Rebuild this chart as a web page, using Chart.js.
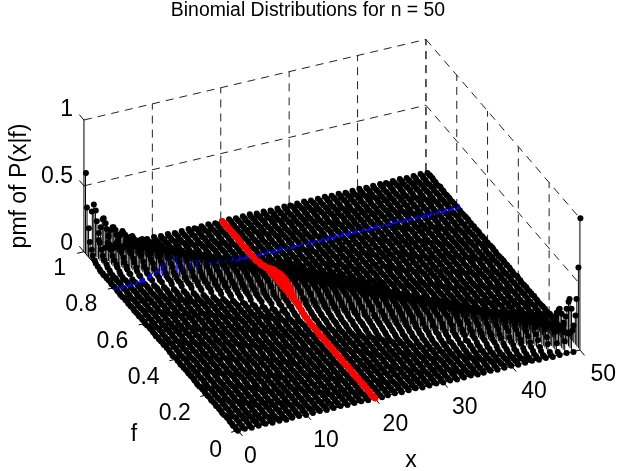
<!DOCTYPE html>
<html>
<head>
<meta charset="utf-8">
<title>Binomial Distributions for n = 50</title>
<script src="https://cdn.jsdelivr.net/npm/chart.js@4/dist/chart.umd.js"></script>
<style>
  body { margin: 0; background: #fff; }
  canvas { display: block; }
</style>
</head>
<body>
<canvas id="myChart" width="617" height="471"></canvas>
<script>
var xValues = [0,1,2,3,4,5,6,7,8,9,10,11,12,13,14,15,16,17,18,19,20,21,22,23,24,25,26,27,28,29,30,31,32,33,34,35,36,37,38,39,40,41,42,43,44,45,46,47,48,49,50];
var fValues = [0,0.01,0.02,0.03,0.04,0.05,0.06,0.07,0.08,0.09,0.1,0.11,0.12,0.13,0.14,0.15,0.16,0.17,0.18,0.19,0.2,0.21,0.22,0.23,0.24,0.25,0.26,0.27,0.28,0.29,0.3,0.31,0.32,0.33,0.34,0.35,0.36,0.37,0.38,0.39,0.4,0.41,0.42,0.43,0.44,0.45,0.46,0.47,0.48,0.49,0.5,0.51,0.52,0.53,0.54,0.55,0.56,0.57,0.58,0.59,0.6,0.61,0.62,0.63,0.64,0.65,0.66,0.67,0.68,0.69,0.7,0.71,0.72,0.73,0.74,0.75,0.76,0.77,0.78,0.79,0.8,0.81,0.82,0.83,0.84,0.85,0.86,0.87,0.88,0.89,0.9,0.91,0.92,0.93,0.94,0.95,0.96,0.97,0.98,0.99];
var xTicks = [0,10,20,30,40,50];
var fTicks = [0,0.2,0.4,0.6,0.8,1];
var zTicks = [0,0.5,1];
var redX = 20;
var blueF = 0.8;

// first x of the visible hump in each f row
var pmfFirstX = [50,47,46,45,44,43,42,41,41,40,39,39,38,37,37,36,36,35,35,34,33,32,32,31,30,30,29,29,28,28,27,27,26,26,25,25,24,24,23,23,22,22,21,21,20,20,19,19,18,18,18,
  19,18,18,17,17,16,16,15,15,14,14,13,13,12,12,11,11,10,10,9,9,8,8,7,7,6,6,5,5,4,4,4,3,3,2,2,2,1,1,1,0,0,0,0,0,0,0,0,0];
// hump heights in percent, everything outside the hump reads as 0
var pmfPercent = [
  [100],[1,8,31,61],[1,6,19,37,36],[1,5,13,26,34,22],[1,3,9,18,28,27,13],[1,3,7,14,22,26,20,8],
  [1,2,5,10,17,23,23,14,5],[1,1,4,8,14,20,22,18,10,3],[1,3,6,11,16,20,20,14,7,2],[1,2,4,8,13,18,20,17,11,4,1],
  [1,2,3,6,11,15,18,18,14,8,3],[1,3,5,9,13,17,18,16,11,6,2],[1,2,4,7,11,15,17,17,13,8,4,1],[1,1,3,6,9,13,16,17,15,11,6,3],
  [1,2,4,7,11,14,16,16,13,9,4,2],[1,2,3,6,9,12,15,16,14,11,7,3,1],[1,2,4,7,11,14,15,15,12,8,5,2],[1,2,4,6,9,13,15,15,13,10,6,3,2],
  [1,3,5,7,10,13,15,14,12,8,5,2],[1,2,3,6,9,11,14,14,13,10,6,3,2],[1,2,3,5,8,10,13,14,14,12,9,6,3,1],[1,1,3,4,7,9,12,14,14,12,10,7,4,2],
  [1,2,3,6,8,11,13,14,13,11,8,5,3,2],[1,2,3,5,7,10,12,13,13,12,9,6,4,2],[1,1,2,4,6,9,11,13,13,12,10,8,5,3,2],[1,2,3,4,7,9,11,13,13,11,9,7,4,3],
  [1,1,2,4,6,8,10,12,13,12,10,8,5,3,2],[1,2,3,5,7,9,11,12,12,11,8,6,4,3],[1,2,3,4,6,9,11,12,12,11,9,7,5,3,2],[1,2,3,5,7,9,11,12,12,10,8,6,4,3],
  [1,2,3,4,6,8,10,12,12,11,9,7,5,3,2],[1,2,3,5,7,9,11,12,12,10,8,6,4,2],[1,2,3,4,6,8,10,11,12,11,9,7,5,3,2],[1,2,3,5,7,9,10,12,12,11,8,6,4,3],
  [1,2,3,4,6,8,10,11,12,11,9,7,5,3,2],[1,2,3,5,7,9,10,12,12,10,8,6,4,3],[1,1,2,4,5,7,9,11,12,11,9,7,5,3,2],[1,2,3,5,7,9,10,11,11,10,8,6,4,2],
  [1,1,2,4,6,8,9,11,12,11,9,7,5,3,2],[1,2,3,5,7,8,10,11,11,10,8,6,4,2],[1,1,2,4,5,7,9,11,11,11,10,8,6,4,2],[1,2,3,5,6,8,10,11,11,10,8,6,4,3],
  [1,1,2,4,5,7,9,11,11,11,10,8,5,4,2],[1,2,3,5,6,8,10,11,11,10,8,6,4,3],[1,1,2,4,5,7,9,11,11,11,10,8,5,4,2],[1,2,3,4,6,8,10,11,11,10,8,6,4,3],
  [1,1,2,3,5,7,9,11,11,11,10,8,5,3,2],[1,2,3,4,6,8,10,11,11,10,8,6,4,2],[1,1,2,3,5,7,9,11,11,11,10,8,5,3,2],[1,2,3,4,6,8,10,11,11,10,8,6,4,2],
  [2,3,4,6,8,10,11,11,11,10,8,6,4,3,2],
  [2,4,6,8,10,11,11,10,8,6,4,3,2,1],[2,3,5,8,10,11,11,11,9,7,5,3,2,1,1],[2,4,6,8,10,11,11,10,8,6,4,3,2,1],[2,3,5,8,10,11,11,11,9,7,5,3,2,1,1],
  [3,4,6,8,10,11,11,10,8,6,4,3,2,1],[2,4,5,8,10,11,11,11,9,7,5,4,2,1,1],[3,4,6,8,10,11,11,10,8,6,5,3,2,1],[2,4,5,8,10,11,11,11,9,7,5,4,2,1,1],
  [3,4,6,8,10,11,11,10,8,6,5,3,2,1],[2,4,6,8,10,11,11,11,9,7,5,4,2,1,1],[2,4,6,8,10,11,11,10,8,7,5,3,2,1],[2,3,5,7,9,11,12,11,9,8,6,4,2,1,1],
  [2,4,6,8,10,11,11,10,9,7,5,3,2,1],[2,3,5,7,9,11,12,11,9,7,5,4,2,1,1],[3,4,6,8,10,12,12,10,9,7,5,3,2,1],[2,3,5,7,9,11,12,11,10,8,6,4,3,2,1],
  [3,4,6,8,11,12,12,10,9,7,5,3,2,1],[2,3,5,7,9,11,12,11,10,8,6,4,3,2,1],[2,4,6,8,10,12,12,11,9,7,5,3,2,1],[2,3,5,7,9,11,12,12,10,8,6,4,3,2,1],
  [3,4,6,8,10,12,12,11,9,7,5,3,2,1],[2,3,5,7,9,11,12,12,11,9,6,4,3,2,1],[3,4,6,8,11,12,12,11,9,7,5,3,2,1],[2,3,5,8,10,12,13,12,10,8,6,4,2,1,1],
  [3,4,7,9,11,13,13,11,9,7,4,3,2,1],[2,3,5,8,10,12,13,13,11,9,6,4,2,1,1],[2,4,6,9,12,13,13,12,10,7,5,3,2,1],[2,3,5,8,11,13,14,13,11,8,6,3,2,1],
  [2,4,7,10,12,14,14,12,9,7,4,3,1,1],[1,3,6,9,12,14,14,13,10,8,5,3,2,1],[2,3,6,10,13,14,14,11,9,6,3,2,1],[2,5,8,12,14,15,13,10,7,5,3,1],
  [2,3,6,10,13,15,15,13,9,6,4,2,1],[2,5,8,12,15,15,14,11,7,4,2,1],[1,3,7,11,14,16,15,12,9,6,3,2,1],[2,4,9,13,16,16,14,11,7,4,2,1],
  [3,6,11,15,17,16,13,9,6,3,1,1],[1,4,8,13,17,17,15,11,7,4,2,1],[2,6,11,16,18,17,13,9,5,3,1],[3,8,14,18,18,15,11,6,3,2,1],
  [1,4,11,17,20,18,13,8,4,2,1],[2,7,14,20,20,16,11,6,3,1],[3,10,18,22,20,14,8,4,1,1],[5,14,23,23,17,10,5,2,1],
  [8,20,26,22,14,7,3,1],[13,27,28,18,9,3,1],[22,34,26,13,5,1],[36,37,19,6,1],[61,31,8,1]
];

// the view is a parallel projection, so three axis vectors are enough
var originX = 237, originY = 434;
var xStep = [6.93, -1.64];
var fStep = [-156, -182];
var zStep = -134;

function project(x, f, z) {
  return {
    x: originX + x * xStep[0] + f * fStep[0],
    y: originY + x * xStep[1] + f * fStep[1] + z * zStep
  };
}

function pmfAt(row, x) {
  var v = pmfPercent[row][x - pmfFirstX[row]];
  return v === undefined ? 0 : v / 100;
}

// stems with a NaN between them so the line breaks
function stemPoints(points) {
  var out = [];
  points.forEach(function (p) {
    var h = pmfAt(p.row, p.x);
    if (h > 0) {
      out.push(project(p.x, fValues[p.row], 0));
      out.push(project(p.x, fValues[p.row], h));
      out.push({x: NaN, y: NaN});
    }
  });
  return out;
}

function segments(list) {
  var out = [];
  list.forEach(function (s) {
    out.push(project(s[0], s[1], s[2]));
    out.push(project(s[3], s[4], s[5]));
    out.push({x: NaN, y: NaN});
  });
  return out;
}

var datasets = [];

function addStems(points, color, width) {
  datasets.push({
    data: stemPoints(points), showLine: true, pointRadius: 0,
    borderColor: color, borderWidth: width
  });
}

// markers snap to whole pixels, that gives the broken white stripes of the original
function addMarkers(points, color, radius) {
  datasets.push({
    data: points.map(function (p) {
      var q = project(p.x, fValues[p.row], pmfAt(p.row, p.x));
      return {x: Math.round(q.x), y: Math.round(q.y)};
    }),
    showLine: false, pointRadius: radius, pointBorderWidth: 0,
    pointBackgroundColor: color, pointBorderColor: color
  });
}

// Chart.js paints the first dataset last, so the red column goes in first
var redPoints = fValues.map(function (f, row) { return {x: redX, row: row}; });
addMarkers(redPoints, '#ff0000', 3.2);
addStems(redPoints, '#ff0000', 1.5);

// back rows sit on top of the rows in front of them, same as the original
for (var row = fValues.length - 1; row >= 0; row--) {
  var rowPoints = [];
  for (var i = 0; i < xValues.length; i++) {
    rowPoints.push({x: xValues[i], row: row});
  }
  var rowColor = fValues[row] === blueF ? '#0000ff' : '#000000';
  addMarkers(rowPoints, rowColor, 3);
  addStems(rowPoints, rowColor, 1);
}

// box: solid axes and small ticks
var axisLines = [[0, 0, 0, 50, 0, 0], [0, 0, 0, 0, 1, 0], [0, 1, 0, 0, 1, 1]];
xTicks.forEach(function (t) { axisLines.push([t, 0, 0, t, -0.03, 0]); });
fTicks.forEach(function (t) { axisLines.push([0, t, 0, -1, t, 0]); });
zTicks.forEach(function (t) { axisLines.push([0, 1, t, 0, 1.03, t]); });
datasets.push({data: segments(axisLines), showLine: true, pointRadius: 0, borderColor: '#000', borderWidth: 1});

// dashed grid on the two back walls
var gridLines = [];
zTicks.forEach(function (t) {
  if (t > 0) {
    gridLines.push([0, 1, t, 50, 1, t]);
    gridLines.push([50, 1, t, 50, 0, t]);
  }
});
xTicks.forEach(function (t) { if (t > 0) gridLines.push([t, 1, 0, t, 1, 1]); });
fTicks.forEach(function (t) { if (t > 0) gridLines.push([50, t, 0, 50, t, 1]); });
datasets.push({data: segments(gridLines), showLine: true, pointRadius: 0, borderColor: '#222', borderWidth: 1, borderDash: [8, 6]});

var labelPlugin = {
  id: 'labels',
  afterDraw: function (chart) {
    var ctx = chart.ctx;
    ctx.save();
    ctx.fillStyle = '#000';
    ctx.textBaseline = 'middle';
    ctx.font = '23px "Liberation Sans"';

    ctx.textAlign = 'right';
    zTicks.forEach(function (t) {
      var p = project(0, 1, t);
      ctx.fillText(String(t), p.x - 8, p.y - 8);
    });
    fTicks.forEach(function (t) {
      var p = project(0, t, 0);
      ctx.fillText(String(t), p.x - 15, p.y + 16.5);
    });
    ctx.textAlign = 'left';
    xTicks.forEach(function (t) {
      var p = project(t, 0, 0);
      ctx.fillText(String(t), p.x + 7, p.y + 23);
    });

    ctx.textAlign = 'center';
    ctx.fillText('f', 134, 435);
    ctx.fillText('x', 411, 461);
    ctx.save();
    ctx.translate(20, 186);
    ctx.rotate(-Math.PI / 2);
    ctx.fillText('pmf of P(x|f)', 0, 0);
    ctx.restore();

    ctx.font = '19.4px "Liberation Sans"';
    ctx.fillText('Binomial Distributions for n = 50', 308, 11);
    ctx.restore();
  }
};

var myChart = new Chart(document.getElementById('myChart'), {
  type: 'scatter',
  data: {datasets: datasets},
  options: {
    responsive: false,
    animation: false,
    events: [],
    layout: {padding: 0},
    plugins: {legend: {display: false}, tooltip: {enabled: false}},
    scales: {
      x: {type: 'linear', min: 0, max: 617, display: false},
      y: {type: 'linear', min: 0, max: 471, reverse: true, display: false}
    }
  },
  plugins: [labelPlugin]
});
</script>
</body>
</html>
